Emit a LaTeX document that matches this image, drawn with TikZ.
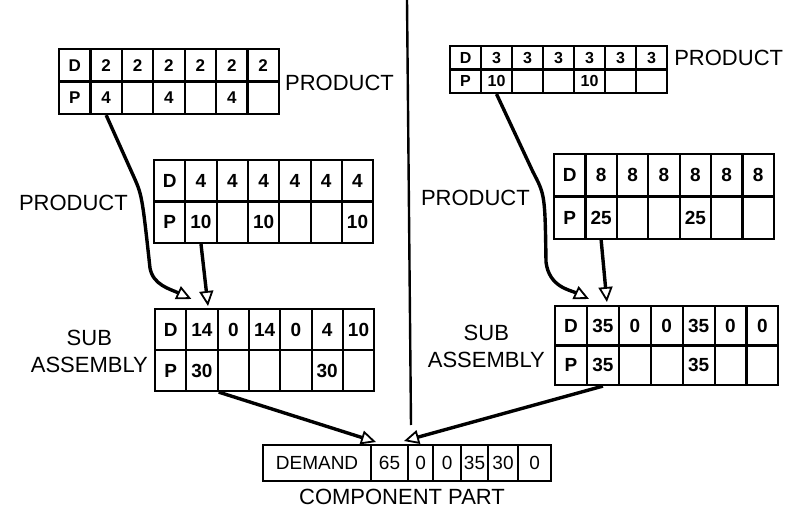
\documentclass[tikz,border=0pt]{standalone}
\usepackage{fontspec}
\setmainfont{Liberation Sans}
\usetikzlibrary{arrows.meta,positioning,calc}
\tikzset{
  cell/.style={draw, line width=2.1pt, anchor=north west, inner sep=0pt},
  lbl/.style={font=\fontsize{22}{27}\selectfont, align=center, inner sep=0pt},
  flow/.style={line width=3.4pt, -{Triangle[open,length=15pt,width=14pt,line width=1.8pt]}},
}
% name, x, y, cell width, row height, font size, D row, P row
\newcommand{\mrpgrid}[8]{%
  \foreach \t [count=\i] in {#7}
    \node[cell, minimum width=#4pt, minimum height=#5pt, font=\bfseries\fontsize{#6}{#6}\selectfont]
      (#1d\i) at ({#2+(\i-1)*#4},#3) {\t};
  \foreach \t [count=\i] in {#8}
    \node[cell, minimum width=#4pt, minimum height=#5pt, font=\bfseries\fontsize{#6}{#6}\selectfont]
      (#1p\i) at ({#2+(\i-1)*#4},{#3+#5}) {\t};
}

\begin{document}
\begin{tikzpicture}[x=1pt, y=-1pt]
\useasboundingbox (0,0) rectangle (795,518);
% dividing rule between the two products
\draw[line width=2.4pt] (407,0) -- (411,425);

% LEFT: product, product, sub assembly
\mrpgrid{t1}{58}{48}{31.4}{32.5}{17}{D,2,2,2,2,2,2}{P,4,{},4,{},4,{}}
\mrpgrid{t2}{153}{159}{31.3}{41.5}{19}{D,4,4,4,4,4,4}{P,10,{},10,{},{},10}
\mrpgrid{t3}{154}{308}{31.3}{41}{19}{D,14,0,14,0,4,10}{P,30,{},{},{},30,{}}
\node[lbl, right=5pt of t1d7.south east] (lblA) {PRODUCT};
\node[lbl, left=25pt of t2d1.south west] (lblB) {PRODUCT};
\node[lbl, left=6pt of t3d1.south west] (lblC) {SUB\\ASSEMBLY};

% RIGHT: product, product, sub assembly
\mrpgrid{t4}{449}{45}{31}{23.5}{16}{D,3,3,3,3,3,3}{P,10,{},{},10,{},{}}
\mrpgrid{t5}{553}{153}{31.4}{42.5}{19}{D,8,8,8,8,8,8}{P,25,{},{},25,{},{}}
\mrpgrid{t6}{554}{305}{31.9}{39.5}{19}{D,35,0,0,35,0,0}{P,35,{},{},35,{},{}}
\node[lbl, right=6pt of t4d7.east] (lblD) {PRODUCT};
\node[lbl, left=23pt of t5d1.south west] (lblE) {PRODUCT};
\node[lbl, left=9pt of t6d1.south west] (lblF) {SUB\\ASSEMBLY};

% BOTTOM: component part demand
\foreach \x/\w/\t [count=\i] in {262/108/DEMAND,370/37/65,407/25/0,432/28/0,460/27/35,487/30/30,517/33/0}
  \node[cell, minimum width=\w pt, minimum height=36pt, font=\fontsize{19}{19}\selectfont] (t7c\i) at (\x,444) {\t};
\node[lbl] (lblG) at (402,497) {COMPONENT PART};

% planned orders feed the next level down
\draw[flow] (t1p2.south) -- (133,175) .. controls (142,195) .. (150,268)
  .. controls (153,285) and (170,289) .. ($(t3d1.north east)+(4,-9)$);
\draw[flow] (t2p2.south) -- ($(t3d2.north)+(6,-2)$);
\draw[flow] (t4p2.south) -- (533,172) .. controls (545,195) .. (546,262)
  .. controls (549,287) and (570,290) .. ($(t6d1.north east)+(1,-6)$);
\draw[flow] (t5p2.south) -- ($(t6d2.north)+(4,-3)$);
\draw[flow] (t3p2.south east) -- ($(t7c2.north west)+(6,-2)$);
\draw[flow] (t6p2.south) -- ($(t7c3.north west)+(-3,-3)$);
\end{tikzpicture}
\end{document}
